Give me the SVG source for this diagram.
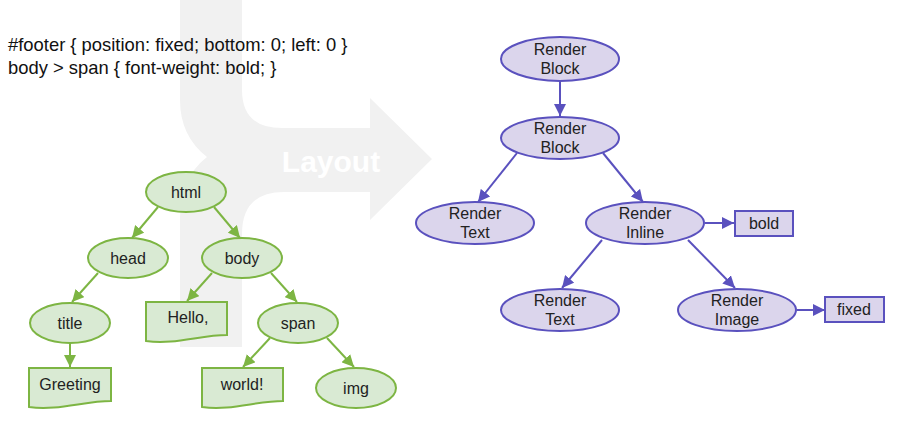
<svg xmlns="http://www.w3.org/2000/svg" width="904" height="425" viewBox="0 0 904 425">
<style>
text{font-family:"Liberation Sans",Arial,sans-serif;font-size:16px;fill:#222;text-anchor:middle}
.css{font-size:18.4px;text-anchor:start;fill:#111}
.g{fill:#d9ead3;stroke:#7db543;stroke-width:2}
.p{fill:#dbd5ec;stroke:#5a51be;stroke-width:2}
.ge{stroke:#7db543;stroke-width:2;fill:none;marker-end:url(#ga)}
.pe{stroke:#5a51be;stroke-width:2;fill:none;marker-end:url(#pa)}
</style>
<defs>
<marker id="ga" viewBox="0 0 10 10" refX="10" refY="5" markerWidth="12" markerHeight="12" markerUnits="userSpaceOnUse" orient="auto"><path d="M0,0 L10,5 L0,10 z" fill="#7db543"/></marker>
<marker id="pa" viewBox="0 0 10 10" refX="10" refY="5" markerWidth="12" markerHeight="12" markerUnits="userSpaceOnUse" orient="auto"><path d="M0,0 L10,5 L0,10 z" fill="#5a51be"/></marker>
</defs>
<rect width="904" height="425" fill="#fff"/>
<g id="layout-arrow">
<path d="M180,0 H242 V90 Q242,128 282,128 H370 V98 L432,159 L370,220 V192 H284 Q242,192 242,234 V347 H180 V218 Q180,178 207,157 Q180,136 180,100 Z" fill="#f1f1f1"/>
<text x="331" y="172" style="font-size:30px;font-weight:bold;fill:#fff">Layout</text>
</g>
<g id="css">
<text class="css" x="8" y="51">#footer { position: fixed; bottom: 0; left: 0 }</text>
<text class="css" x="8" y="74">body &gt; span { font-weight: bold; }</text>
</g>
<g id="connectors">
<line class="ge" x1="158" y1="207" x2="132" y2="238"/>
<line class="ge" x1="214" y1="207" x2="240" y2="238"/>
<line class="ge" x1="98" y1="273" x2="72" y2="302"/>
<line class="ge" x1="212" y1="273" x2="187" y2="301"/>
<line class="ge" x1="271" y1="273" x2="297" y2="302"/>
<line class="ge" x1="70" y1="343" x2="70" y2="367"/>
<line class="ge" x1="270" y1="338" x2="243" y2="367"/>
<line class="ge" x1="327" y1="338" x2="354" y2="367"/>
<line class="pe" x1="560" y1="81" x2="560" y2="116"/>
<line class="pe" x1="517" y1="153" x2="478" y2="202"/>
<line class="pe" x1="603" y1="153" x2="643" y2="202"/>
<line class="pe" x1="705" y1="223" x2="734" y2="223"/>
<line class="pe" x1="602" y1="240" x2="562" y2="288"/>
<line class="pe" x1="688" y1="240" x2="735" y2="288"/>
<line class="pe" x1="797" y1="310" x2="825" y2="310"/>
</g>
<g id="html"><ellipse class="g" cx="186" cy="192" rx="40" ry="20"/><text x="186" y="198">html</text></g>
<g id="head"><ellipse class="g" cx="128" cy="258" rx="40" ry="20"/><text x="128" y="264">head</text></g>
<g id="body"><ellipse class="g" cx="242" cy="258" rx="40" ry="20"/><text x="242" y="264">body</text></g>
<g id="title"><ellipse class="g" cx="70" cy="323" rx="40" ry="20"/><text x="70" y="329">title</text></g>
<g id="span"><ellipse class="g" cx="298" cy="323" rx="40" ry="20"/><text x="298" y="329">span</text></g>
<g id="img"><ellipse class="g" cx="356" cy="388" rx="40" ry="20"/><text x="356" y="394">img</text></g>
<g id="hello"><path class="g" d="M146,302 H227 V335 C200,335 175,345 146,341 Z"/><text x="188" y="323">Hello,</text></g>
<g id="greeting"><path class="g" d="M29,368 H111 V401 C84,401 58,411 29,407 Z"/><text x="70" y="390">Greeting</text></g>
<g id="world"><path class="g" d="M202,368 H283 V401 C256,401 231,411 202,407 Z"/><text x="242" y="390">world!</text></g>
<g id="rb1"><ellipse class="p" cx="560" cy="59" rx="59" ry="22"/><text x="560" y="55">Render</text><text x="560" y="74">Block</text></g>
<g id="rb2"><ellipse class="p" cx="560" cy="138" rx="59" ry="21"/><text x="560" y="134">Render</text><text x="560" y="153">Block</text></g>
<g id="rtext1"><ellipse class="p" cx="475" cy="223" rx="59" ry="21"/><text x="475" y="219">Render</text><text x="475" y="238">Text</text></g>
<g id="rinline"><ellipse class="p" cx="645" cy="223" rx="59" ry="21"/><text x="645" y="219">Render</text><text x="645" y="238">Inline</text></g>
<g id="bold"><rect class="p" x="735" y="211" width="58" height="25"/><text x="764" y="229">bold</text></g>
<g id="rtext2"><ellipse class="p" cx="560" cy="310" rx="59" ry="21"/><text x="560" y="306">Render</text><text x="560" y="325">Text</text></g>
<g id="rimage"><ellipse class="p" cx="737" cy="310" rx="59" ry="21"/><text x="737" y="306">Render</text><text x="737" y="325">Image</text></g>
<g id="fixed"><rect class="p" x="825" y="297" width="59" height="25"/><text x="854" y="315">fixed</text></g>
</svg>
